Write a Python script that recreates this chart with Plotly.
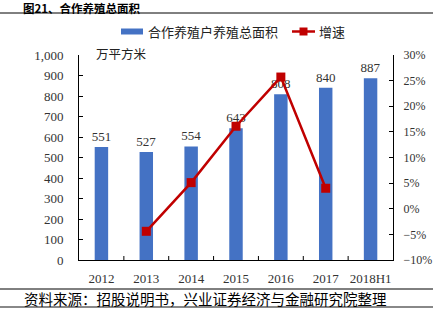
import plotly.graph_objects as go

years = ["2012", "2013", "2014", "2015", "2016", "2017", "2018H1"]
area = [551, 527, 554, 643, 808, 840, 887]
growth_years = ["2013", "2014", "2015", "2016", "2017"]
growth = [-4.4, 5.1, 16.1, 25.7, 4.0]

W, H = 433, 327
L, R, T, B = 79, 393, 55, 260

def px(x):
    return (x - L) / (R - L)

def py(y):
    return (B - y) / (B - T)

serif = "Liberation Serif, Noto Sans CJK SC"
cjk = "Noto Sans CJK SC"
bar_color = "#4472C4"
line_color = "#C00000"

fig = go.Figure()
fig.add_trace(go.Bar(
    x=years, y=area, name="合作养殖户养殖总面积",
    marker=dict(color=bar_color, line=dict(width=0)),
    width=0.3,
    text=[str(v) for v in area], textposition="outside", constraintext="none",
    textfont=dict(family=serif, size=13, color="#333333"),
    cliponaxis=False, showlegend=False,
))
fig.add_trace(go.Scatter(
    x=growth_years, y=growth, name="增速", yaxis="y2",
    mode="lines+markers",
    line=dict(color=line_color, width=2.5),
    marker=dict(symbol="square", size=9, color=line_color),
    showlegend=False,
))

tickfont = dict(family=serif, size=13, color="#333333")
fig.update_layout(
    width=W, height=H,
    margin=dict(l=L, r=W - R, t=T, b=H - B, autoexpand=False),
    plot_bgcolor="white", paper_bgcolor="white",
    showlegend=False,
    xaxis=dict(type="category", showline=True, linecolor="#000000", linewidth=1,
               ticks="", tickfont=tickfont, showgrid=False, ticklabelstandoff=6,
               automargin=False),
    yaxis=dict(range=[0, 1000], dtick=100, tickformat=",d", showline=True,
               linecolor="#000000", linewidth=1, ticks="inside", ticklen=4,
               tickcolor="#000000", showgrid=False, zeroline=False,
               tickfont=tickfont, ticklabelstandoff=12, automargin=False),
    yaxis2=dict(range=[-10, 30], dtick=5, ticksuffix="%", overlaying="y", side="right",
                showline=True, linecolor="#000000", linewidth=1, ticks="inside",
                ticklen=4, tickcolor="#000000", showgrid=False, zeroline=False,
                tickfont=dict(family=serif, size=12, color="#333333"),
                ticklabelstandoff=7, automargin=False),
)

shapes = []
for i in range(1, len(years)):
    shapes.append(dict(type="line", xref="x", yref="paper", x0=i - 0.5, x1=i - 0.5,
                       y0=0, y1=4 / (B - T), line=dict(color="#000000", width=1)))
shapes.append(dict(type="line", xref="paper", yref="paper", x0=px(0), x1=px(433),
                   y0=py(13), y1=py(13), line=dict(color="#000000", width=1)))
shapes.append(dict(type="line", xref="paper", yref="paper", x0=px(0), x1=px(433),
                   y0=py(289), y1=py(289), line=dict(color="#000000", width=1)))
shapes.append(dict(type="line", xref="paper", yref="paper", x0=px(0), x1=px(433),
                   y0=py(307), y1=py(307), line=dict(color="#888888", width=2)))
# custom legend
shapes.append(dict(type="rect", xref="paper", yref="paper", x0=px(121), x1=px(143),
                   y0=py(34.5), y1=py(28.5), line=dict(width=0), fillcolor=bar_color))
shapes.append(dict(type="line", xref="paper", yref="paper", x0=px(292), x1=px(315),
                   y0=py(31.5), y1=py(31.5), line=dict(color=line_color, width=2.5)))
shapes.append(dict(type="rect", xref="paper", yref="paper", x0=px(299.5), x1=px(307.5),
                   y0=py(35.5), y1=py(27.5), line=dict(width=0), fillcolor=line_color))
fig.update_layout(shapes=shapes)

fig.add_annotation(text="合作养殖户养殖总面积", xref="paper", yref="paper",
                   x=px(146), y=py(31.5), xanchor="left", yanchor="middle", showarrow=False,
                   font=dict(family=cjk, size=13, color="#222222"))
fig.add_annotation(text="增速", xref="paper", yref="paper",
                   x=px(317), y=py(31.5), xanchor="left", yanchor="middle", showarrow=False,
                   font=dict(family=cjk, size=13, color="#222222"))
fig.add_annotation(text="<b>图21、合作养殖总面积</b>", xref="paper", yref="paper",
                   x=px(22), y=py(8), xanchor="left", yanchor="middle", showarrow=False,
                   borderpad=0, font=dict(family=cjk, size=11.5, color="#000000"))
fig.add_annotation(text="万平方米", xref="paper", yref="paper",
                   x=px(94), y=py(53), xanchor="left", yanchor="middle", showarrow=False,
                   font=dict(family=cjk, size=12.5, color="#222222"))
fig.add_annotation(text="资料来源：招股说明书，兴业证券经济与金融研究院整理", xref="paper", yref="paper",
                   x=px(22), y=py(298), xanchor="left", yanchor="middle", showarrow=False,
                   font=dict(family=cjk, size=14.5, color="#000000"))

fig.write_html("out.html")
